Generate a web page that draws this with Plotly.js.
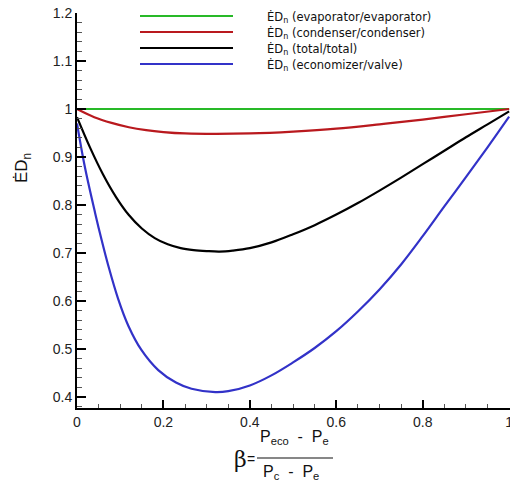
<!DOCTYPE html>
<html>
<head>
<meta charset="utf-8">
<script src="https://cdn.plot.ly/plotly-3.0.1.min.js"></script>
<style>html,body{margin:0;padding:0;background:#fff;}#chart{width:510px;height:483px;}</style>
</head>
<body>
<div id="chart"></div>
<script>
// ---- data ----
const seriesNames = [
  "ĖD<sub>n</sub> (evaporator/evaporator)",
  "ĖD<sub>n</sub> (condenser/condenser)",
  "ĖD<sub>n</sub> (total/total)",
  "ĖD<sub>n</sub> (economizer/valve)"
];
const evapX = [0, 0.5, 1];
const evapY = [1, 1, 1];

const condX = [0, 0.04, 0.08, 0.12, 0.16, 0.2, 0.25, 0.32, 0.4, 0.5, 0.6, 0.7, 0.8, 0.9, 1.0];
const condY = [1.0, 0.983, 0.971, 0.962, 0.956, 0.952, 0.949, 0.948, 0.949, 0.953, 0.959, 0.968, 0.978, 0.989, 1.0];

const totX = [0, 0.03, 0.06, 0.09, 0.12, 0.15, 0.18, 0.21, 0.24, 0.27, 0.30, 0.33, 0.36, 0.4, 0.45, 0.5, 0.55, 0.6, 0.65, 0.7, 0.75, 0.8, 0.85, 0.9, 0.95, 1.0];
const totY = [0.983, 0.92, 0.864, 0.817, 0.779, 0.751, 0.731, 0.718, 0.71, 0.706, 0.704, 0.703, 0.705, 0.710, 0.722, 0.739, 0.758, 0.780, 0.804, 0.830, 0.857, 0.885, 0.913, 0.941, 0.968, 0.995];

const ecoX = [0, 0.018, 0.042, 0.057, 0.072, 0.095, 0.119, 0.149, 0.188, 0.229, 0.265, 0.32, 0.35, 0.4, 0.45, 0.5, 0.55, 0.6, 0.65, 0.7, 0.75, 0.8, 0.85, 0.9, 0.95, 1.0];
const ecoY = [0.97, 0.88, 0.783, 0.727, 0.675, 0.605, 0.548, 0.498, 0.456, 0.43, 0.417, 0.41, 0.412, 0.424, 0.445, 0.472, 0.502, 0.537, 0.578, 0.624, 0.676, 0.735, 0.797, 0.858, 0.92, 0.984];

const xTickVals = [0, 0.2, 0.4, 0.6, 0.8, 1];
const xTickText = ["0", "0.2", "0.4", "0.6", "0.8", "1"];
const yTickVals = [0.4, 0.5, 0.6, 0.7, 0.8, 0.9, 1, 1.1, 1.2];
const yTickText = ["0.4", "0.5", "0.6", "0.7", "0.8", "0.9", "1", "1.1", "1.2"];

const colors = ["rgb(40,185,40)", "rgb(185,25,30)", "rgb(0,0,0)", "rgb(50,50,200)"];

// ---- layout helpers (pixel -> paper) ----
const ML = 77, MT = 13, PW = 433, PH = 395;
const PX = p => (p - ML) / PW;
const PY = p => (MT + PH - p) / PH;

const traces = [
  {x: evapX, y: evapY, name: seriesNames[0], mode: "lines", line: {color: colors[0], width: 2.2}},
  {x: condX, y: condY, name: seriesNames[1], mode: "lines", line: {color: colors[1], width: 2.2, shape: "spline", smoothing: 1}},
  {x: totX, y: totY, name: seriesNames[2], mode: "lines", line: {color: colors[2], width: 2.2, shape: "spline", smoothing: 1}},
  {x: ecoX, y: ecoY, name: seriesNames[3], mode: "lines", line: {color: colors[3], width: 2.2, shape: "spline", smoothing: 1}}
];

const legendRows = [16, 32, 48, 64];
const shapes = [];
const annotations = [];
legendRows.forEach((ry, i) => {
  shapes.push({type: "line", xref: "paper", yref: "paper", x0: PX(140), x1: PX(233), y0: PY(ry), y1: PY(ry),
    line: {color: colors[i], width: 2.2}});
  annotations.push({xref: "paper", yref: "paper", x: PX(265), y: PY(ry + 1), xanchor: "left", yanchor: "middle",
    text: seriesNames[i], showarrow: false, font: {family: "DejaVu Sans", size: 11.5, color: "#111"}});
});

// x-axis title: beta = (Peco - Pe)/(Pc - Pe)
shapes.push({type: "line", xref: "paper", yref: "paper", x0: PX(257), x1: PX(333), y0: PY(458), y1: PY(458),
  line: {color: "#111", width: 1.2}});
annotations.push({xref: "paper", yref: "paper", x: PX(240), y: PY(459), xanchor: "center", yanchor: "middle",
  text: "β", showarrow: false, font: {family: "DejaVu Serif", size: 22, color: "#111"}});
annotations.push({xref: "paper", yref: "paper", x: PX(251), y: PY(459), xanchor: "center", yanchor: "middle",
  text: "=", showarrow: false, font: {family: "Liberation Sans", size: 14, color: "#111"}});
annotations.push({xref: "paper", yref: "paper", x: PX(294), y: PY(437), xanchor: "center", yanchor: "middle",
  text: "P<sub>eco</sub>  -  P<sub>e</sub>", showarrow: false, font: {family: "Liberation Sans", size: 16, color: "#111"}});
annotations.push({xref: "paper", yref: "paper", x: PX(291), y: PY(472), xanchor: "center", yanchor: "middle",
  text: "P<sub>c</sub>  -  P<sub>e</sub>", showarrow: false, font: {family: "Liberation Sans", size: 16, color: "#111"}});
// y-axis title
annotations.push({xref: "paper", yref: "paper", x: PX(23), y: PY(168), xanchor: "center", yanchor: "middle",
  text: "ĖD<sub>n</sub>", textangle: -90, showarrow: false, font: {family: "Liberation Sans", size: 17, color: "#111"}});

const layout = {
  width: 510, height: 483,
  margin: {l: ML, r: 510 - ML - PW, t: MT, b: 483 - MT - PH, pad: 0},
  paper_bgcolor: "#fff", plot_bgcolor: "#fff",
  showlegend: false,
  font: {family: "Liberation Sans", size: 14, color: "#222"},
  xaxis: {
    range: [0, 1.002], tickvals: xTickVals, ticktext: xTickText, ticklabeloverflow: "allow",
    showgrid: false, zeroline: false, showline: true, linecolor: "#000", linewidth: 2, mirror: false,
    ticks: "inside", ticklen: 8, tickwidth: 2, tickcolor: "#000",
    minor: {dtick: 0.05, ticks: "inside", ticklen: 4, tickwidth: 1, tickcolor: "#555", showgrid: false},
    tickfont: {family: "Liberation Sans", size: 14, color: "#222"}
  },
  yaxis: {
    range: [0.377, 1.2], tickvals: yTickVals, ticktext: yTickText,
    showgrid: false, zeroline: false, showline: true, linecolor: "#000", linewidth: 2, mirror: false,
    ticks: "inside", ticklen: 9, tickwidth: 2, tickcolor: "#000",
    minor: {dtick: 0.02, ticks: "inside", ticklen: 5, tickwidth: 1, tickcolor: "#555", showgrid: false},
    tickfont: {family: "Liberation Sans", size: 14, color: "#222"}
  },
  shapes: shapes,
  annotations: annotations
};

Plotly.newPlot("chart", traces, layout, {staticPlot: true, displayModeBar: false});
</script>
</body>
</html>
